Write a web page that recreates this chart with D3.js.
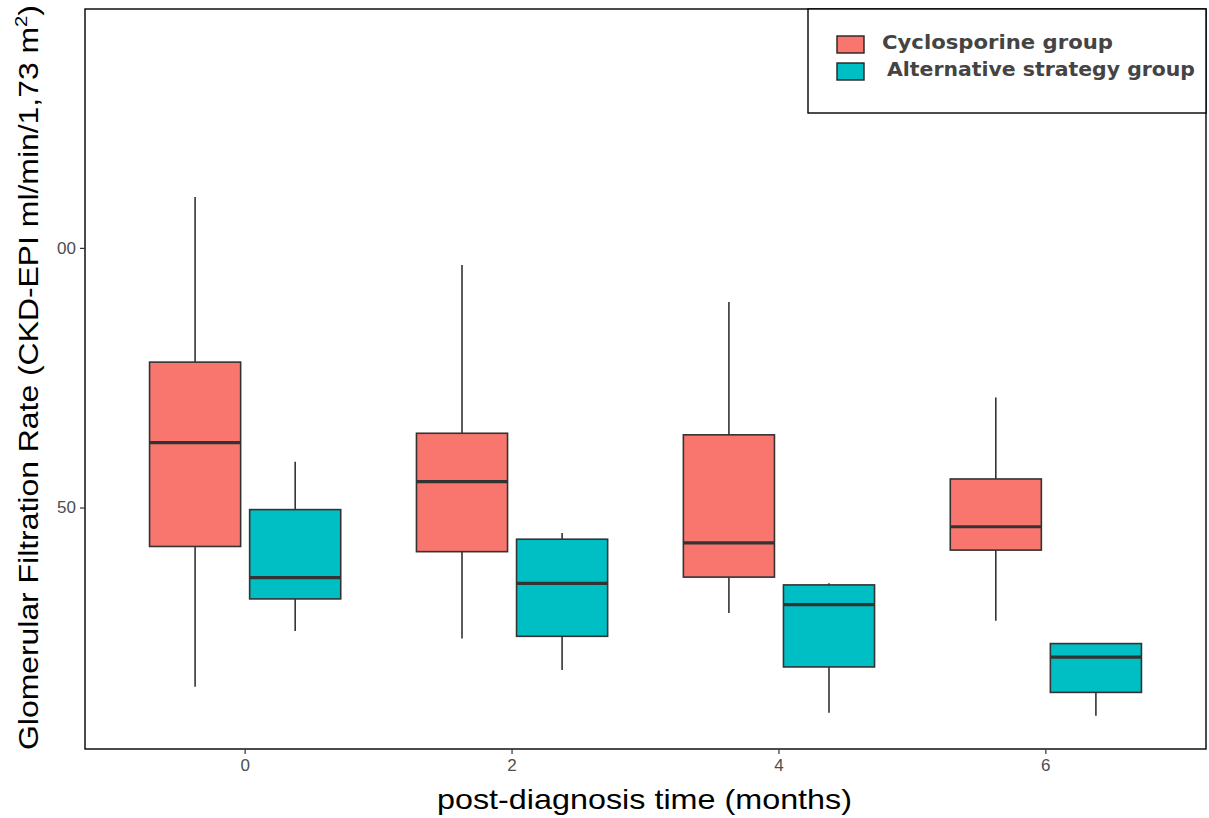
<!DOCTYPE html>
<html>
<head>
<meta charset="utf-8">
<script src="https://cdn.jsdelivr.net/npm/d3@7"></script>
<style>
  body { margin: 0; background: #fff; }
  svg { display: block; }
</style>
</head>
<body>
<svg></svg>
<script>
// data: [whisker low, q1, median, q3, whisker high]
const months = ["0", "2", "4", "6"];
const groups = ["Cyclosporine group", "Alternative strategy group"];
const cycloStats = [
  [15.5, 42.5, 62.5, 78.0, 109.8],
  [24.8, 41.5, 55.0, 64.3, 96.7],
  [29.7, 36.6, 43.2, 64.0, 89.6],
  [28.2, 41.8, 46.3, 55.5, 71.2]
];
const altStats = [
  [26.2, 32.4, 36.5, 49.6, 58.8],
  [18.7, 25.2, 35.4, 43.9, 45.1],
  [10.5, 19.3, 31.3, 35.1, 35.4],
  [9.9, 14.4, 21.2, 23.8, 23.8]
];
const yTicks = [50, 100];
const yTickLabels = ["50", "00"];   // the "1" is cut off in the original
const colors = ["#F8766D", "#00BFC4"];

const W = 1209, H = 818;
const pLeft = 85, pRight = 1206, pTop = 9, pBottom = 749;
const font = "Liberation Sans, Arial, sans-serif";

const svg = d3.select("svg").attr("width", W).attr("height", H);

const x = d3.scaleBand().domain(months).range([pLeft, pRight]).paddingInner(0).paddingOuter(0.1);
const step = x.bandwidth();
const xg = d3.scaleBand().domain(groups)
  .range([step / 2 - 0.375 * step, step / 2 + 0.375 * step])
  .paddingInner(0.09).paddingOuter(0.045);
const y = d3.scaleLinear().domain([3.5, 146]).range([pBottom, pTop]);

// boxes
const rows = [];
months.forEach((m, i) => {
  rows.push({month: m, group: groups[0], s: cycloStats[i], c: colors[0]});
  rows.push({month: m, group: groups[1], s: altStats[i], c: colors[1]});
});

const box = svg.append("g").selectAll("g").data(rows).join("g")
  .attr("transform", d => `translate(${x(d.month) + xg(d.group)},0)`);

const bw = xg.bandwidth();
box.append("line")
  .attr("x1", bw / 2).attr("x2", bw / 2)
  .attr("y1", d => y(d.s[4])).attr("y2", d => y(d.s[3]))
  .attr("stroke", "#333").attr("stroke-width", 1.6);
box.append("line")
  .attr("x1", bw / 2).attr("x2", bw / 2)
  .attr("y1", d => y(d.s[1])).attr("y2", d => y(d.s[0]))
  .attr("stroke", "#333").attr("stroke-width", 1.6);
box.append("rect")
  .attr("x", 0).attr("width", bw)
  .attr("y", d => y(d.s[3])).attr("height", d => y(d.s[1]) - y(d.s[3]))
  .attr("fill", d => d.c).attr("stroke", "#333").attr("stroke-width", 1.6);
box.append("line")
  .attr("x1", 0).attr("x2", bw)
  .attr("y1", d => y(d.s[2])).attr("y2", d => y(d.s[2]))
  .attr("stroke", "#333").attr("stroke-width", 3.2);

// panel border
svg.append("rect")
  .attr("x", pLeft).attr("y", pTop).attr("width", pRight - pLeft).attr("height", pBottom - pTop)
  .attr("fill", "none").attr("stroke", "#000").attr("stroke-width", 1.4);

// axes
const yAxis = svg.append("g").attr("transform", `translate(${pLeft},0)`)
  .call(d3.axisLeft(y).tickValues(yTicks).tickSize(5).tickPadding(4)
    .tickFormat((d, i) => yTickLabels[i]));
const xAxis = svg.append("g").attr("transform", `translate(0,${pBottom})`)
  .call(d3.axisBottom(x).tickSize(5).tickPadding(5));
[yAxis, xAxis].forEach(a => {
  a.select(".domain").remove();
  a.selectAll(".tick line").attr("stroke", "#333").attr("stroke-width", 1.2);
  a.selectAll(".tick text").attr("fill", "#4d4d4d")
    .style("font-family", font).style("font-size", "17px");
});

// axis titles (the original is stretched along the text direction)
svg.append("text")
  .attr("x", 437).attr("y", 809)
  .attr("textLength", 415).attr("lengthAdjust", "spacingAndGlyphs")
  .style("font-family", font).style("font-size", "28px")
  .text("post-diagnosis time (months)");

const yt = svg.append("text")
  .style("font-family", font).style("font-size", "27px");
yt.append("tspan").text("Glomerular Filtration Rate (CKD-EPI ml/min/1,73 m");
yt.append("tspan").attr("dy", -11).style("font-size", "17px").text("2");
yt.append("tspan").attr("dy", 11).text(")");
const ytLen = yt.node().getBBox().width;
const ytScale = 745 / ytLen;
yt.attr("transform", `translate(38,750) rotate(-90) scale(${ytScale},1)`);

// legend
const lg = svg.append("g");
lg.append("rect")
  .attr("x", 808).attr("y", pTop).attr("width", pRight - 808).attr("height", 104)
  .attr("fill", "#fff").attr("stroke", "#000").attr("stroke-width", 1.4);
const item = lg.selectAll("g.item").data(groups).join("g").attr("class", "item")
  .attr("transform", (d, i) => `translate(837,${36 + i * 27})`);
item.append("rect")
  .attr("width", 27).attr("height", 17)
  .attr("fill", (d, i) => colors[i]).attr("stroke", "#222").attr("stroke-width", 1.4);
item.append("text")
  .attr("x", (d, i) => i === 0 ? 45 : 50).attr("y", 13)
  .attr("textLength", (d, i) => i === 0 ? 231 : 308).attr("lengthAdjust", "spacingAndGlyphs")
  .attr("fill", "#444")
  .style("font-family", "DejaVu Sans, sans-serif").style("font-size", "19px")
  .style("font-weight", "bold")
  .text(d => d);
</script>
</body>
</html>
